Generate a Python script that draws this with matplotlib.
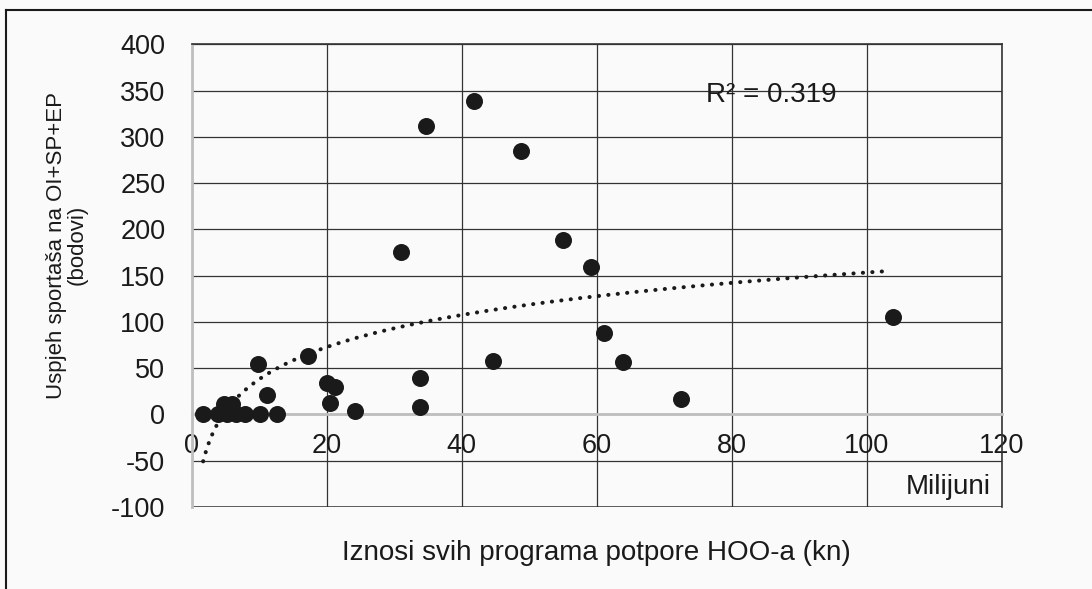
'''
Scatter of HOO support amounts vs athlete success, with log trendline
'''
import matplotlib
matplotlib.use("Agg")
import matplotlib.pyplot as plt
from matplotlib.lines import Line2D
import numpy as np

# amounts of all support programmes (millions kn)
iznosi = [1.7, 3.9, 5.2, 6.5, 7.9, 10.2, 12.6, 4.8, 6.0, 11.1, 9.9, 17.3,
          20.0, 21.2, 20.5, 24.2, 33.8, 33.8, 31.05, 34.7, 41.9, 48.8,
          55.05, 59.1, 61.1, 63.9, 72.5, 44.7, 103.9]
# success on OI+SP+EP (points)
bodovi = [1, 1, 1, 1, 1, 1, 1, 11, 11, 21, 55, 63,
          34, 30, 12, 4, 39, 8, 176, 312, 339, 285,
          189, 159, 88, 57, 17, 58, 105]

x_ticks = [0, 20, 40, 60, 80, 100, 120]
y_ticks = [-100, -50, 0, 50, 100, 150, 200, 250, 300, 350, 400]
r2_text = "R² = 0.319"

plt.rcParams['font.family'] = ['Liberation Sans', 'DejaVu Sans']
plt.rcParams['axes.unicode_minus'] = False
BG = '#fafafa'
INK = '#1a1a1a'


def main():
    fig = plt.figure(figsize=(10.92, 5.89), dpi=100, facecolor=BG)
    ax = fig.add_axes([0.1755, 0.1392, 0.7418, 0.7854], facecolor=BG)

    ax.set_xlim(x_ticks[0], x_ticks[-1])
    ax.set_ylim(y_ticks[0], y_ticks[-1])
    ax.set_xticks(x_ticks)
    ax.set_yticks(y_ticks)

    # grid
    ax.set_axisbelow(True)
    ax.grid(True, color='#333333', linewidth=0.9)
    ax.axhline(y_ticks[0], color='#333333', linewidth=1.8)  # bottom frame

    # spines: x axis at y=0, light gray
    ax.spines['bottom'].set_position(('data', 0))
    for s in ['bottom', 'left']:
        ax.spines[s].set_color('#bfbfbf')
        ax.spines[s].set_linewidth(2)
    for s in ['top', 'right']:
        ax.spines[s].set_color('#333333')
        ax.spines[s].set_linewidth(1.2)

    ax.tick_params(axis='both', length=0, labelsize=19.5, colors=INK)
    ax.tick_params(axis='y', pad=19)
    ax.tick_params(axis='x', pad=13)

    # points
    ax.scatter(iznosi, bodovi, s=150, color=INK, zorder=3, linewidths=0)

    # logarithmic trendline (least squares on ln x)
    a, b = np.polyfit(np.log(iznosi), bodovi, 1)
    xs = np.linspace(min(iznosi), max(iznosi) - 1, 200)
    ax.plot(xs, a * np.log(xs) + b, color=INK, linewidth=2.9,
            linestyle=(0, (0.05, 2.3)), dash_capstyle='round', zorder=2)

    ax.text(0.635, 0.8906, r2_text, transform=ax.transAxes, fontsize=20,
            ha='left', va='center', color=INK)
    ax.text(0.986, 0.043, "Milijuni", transform=ax.transAxes, fontsize=20,
            ha='right', va='center', color=INK)

    ax.set_xlabel("Iznosi svih programa potpore HOO-a (kn)", fontsize=20,
                  color=INK, va='center')
    ax.xaxis.set_label_coords(0.5, -0.0994)
    ax.set_ylabel("Uspjeh sportaša na OI+SP+EP\n(bodovi)", fontsize=16,
                  color=INK, linespacing=1.0, ha='center', va='center')
    ax.yaxis.set_label_coords(-0.154, 0.566)

    # outer chart border (top and left edges visible)
    fig.add_artist(Line2D([0.0055, 1.0], [0.983, 0.983], color=INK,
                          linewidth=1.5, transform=fig.transFigure))
    fig.add_artist(Line2D([0.0055, 0.0055], [0.0, 0.983], color=INK,
                          linewidth=1.5, transform=fig.transFigure))

    fig.savefig("out.png", dpi=100, facecolor=BG)


if __name__ == '__main__':
    main()
